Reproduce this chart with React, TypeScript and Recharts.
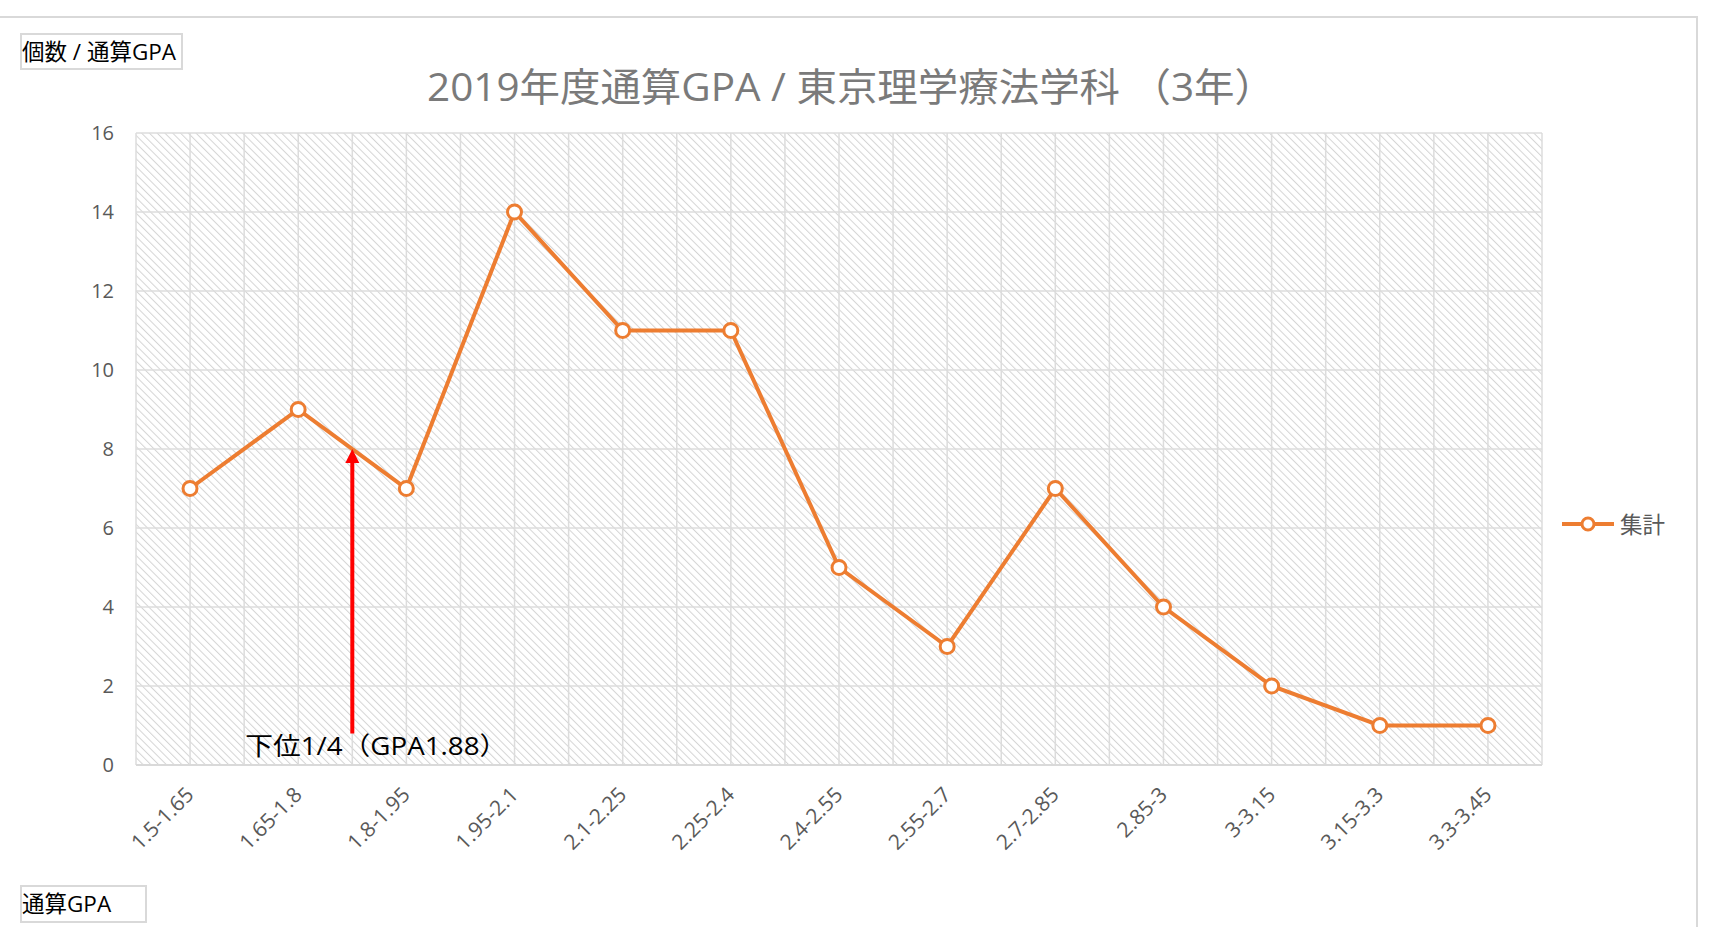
import React from 'react';
import {
  LineChart, Line, XAxis, YAxis, CartesianGrid, Legend, ReferenceLine,
} from 'recharts';

const categories = ['1.5-1.65', '1.65-1.8', '1.8-1.95', '1.95-2.1', '2.1-2.25', '2.25-2.4', '2.4-2.55', '2.55-2.7', '2.7-2.85', '2.85-3', '3-3.15', '3.15-3.3', '3.3-3.45'];
const counts = [7, 9, 7, 14, 11, 11, 5, 3, 7, 4, 2, 1, 1];
const yTicks = [0, 2, 4, 6, 8, 10, 12, 14, 16];
const seriesName = '集計';
const titleText = '2019年度通算GPA / 東京理学療法学科 （3年）';
const yFieldLabel = '個数 / 通算GPA';
const xFieldLabel = '通算GPA';
const arrowLabel = '下位1/4（GPA1.88）';
// arrow position in category units (boundary between 2nd and 3rd category), and its y range
const arrowX = 2;
const arrowFromY = 0.8;
const arrowToY = 8;

const data = categories.map((c, i) => ({ name: c, value: counts[i], pos: i + 0.5 }));

const FONT = '"Open Sans", "Noto Sans CJK JP", sans-serif';
const ORANGE = '#ED7D31';

const XTick = (props: any) => {
  const { x, y, payload } = props;
  const ax = x + 5;
  const ay = y + 23;
  return (
    <text x={ax} y={ay} textAnchor="end" fill="#595959" fontSize={21} fontFamily={FONT}
      transform={`rotate(-45, ${ax}, ${ay})`}>
      {payload.value}
    </text>
  );
};

const ArrowShape = (props: any) => {
  const { x1, y1, x2, y2 } = props;
  const top = Math.min(y1, y2);
  const bottom = Math.max(y1, y2);
  const x = x1;
  return (
    <g>
      <line x1={x} y1={bottom} x2={x} y2={top + 12} stroke="#FF0000" strokeWidth={4} />
      <polygon points={`${x},${top} ${x - 7},${top + 14} ${x + 7},${top + 14}`} fill="#FF0000" />
      <text x={x + 24} y={bottom + 22} textAnchor="middle" fontSize={25} fill="#000" fontFamily={FONT}
        textLength={262} lengthAdjust="spacingAndGlyphs">
        {arrowLabel}
      </text>
    </g>
  );
};

const LegendContent = (props: any) => {
  const { payload } = props;
  return (
    <div style={{ display: 'flex', flexDirection: 'column' }}>
      {(payload || []).map((p: any) => (
        <div key={p.value} style={{ display: 'flex', alignItems: 'center' }}>
          <svg width={56} height={20} style={{ display: 'block' }}>
            <line x1={2} y1={10} x2={54} y2={10} stroke={ORANGE} strokeWidth={4} />
            <circle cx={28} cy={10} r={6} fill="#fff" stroke={ORANGE} strokeWidth={3} />
          </svg>
          <span style={{ fontFamily: FONT, fontSize: 22.5, color: '#595959', marginLeft: 4 }}>{p.value}</span>
        </div>
      ))}
    </div>
  );
};

export default function App() {
  return (
    <div style={{ position: 'absolute', left: 0, top: 0, width: 1715, height: 927, overflow: 'hidden', background: '#fff' }}>
      <svg width={0} height={0} style={{ position: 'absolute' }}>
        <defs>
          <pattern id="hatch" patternUnits="userSpaceOnUse" width={5.5} height={5.5} patternTransform="rotate(-45)">
            <rect width={5.5} height={5.5} fill="#ffffff" />
            <line x1={0} y1={0} x2={0} y2={5.5} stroke="#d4d4d4" strokeWidth={2} />
          </pattern>
        </defs>
      </svg>
      <div style={{ position: 'absolute', left: -4, top: 16, width: 1702, height: 940, border: '2px solid #d9d9d9', boxSizing: 'border-box' }} />
      <div style={{ position: 'absolute', left: 0, top: 0 }}>
        <LineChart width={1715} height={927} data={data} margin={{ top: 133, right: 173, bottom: 102, left: 76 }}>
          <text x={851} y={101} textAnchor="middle" fontSize={39} fill="#7a7a7a" fontFamily={FONT}
            textLength={848} lengthAdjust="spacingAndGlyphs">{titleText}</text>
          <CartesianGrid
            fill="url(#hatch)"
            stroke="#dcdcdc"
            strokeWidth={1.5}
            verticalCoordinatesGenerator={({ offset }: any) =>
              Array.from({ length: categories.length * 2 + 1 }, (_, i) => offset.left + (i * offset.width) / (categories.length * 2))}
          />
          <XAxis dataKey="name" padding={{ left: 54, right: 54 }} height={60} axisLine={{ stroke: '#d9d9d9', strokeWidth: 2 }}
            tickLine={false} interval={0} tick={<XTick />} />
          <XAxis xAxisId="n" dataKey="pos" type="number" scale="linear" domain={[0, categories.length]}
            ticks={[0, categories.length]} allowDataOverflow hide />
          <YAxis width={60} domain={[0, 16]} ticks={yTicks} axisLine={false} tickLine={false} tickMargin={16}
            tick={{ fill: '#595959', fontSize: 20, fontFamily: FONT }} />
          <Line type="linear" dataKey="value" name={seriesName} stroke={ORANGE} strokeWidth={4}
            dot={{ r: 7, fill: '#fff', stroke: ORANGE, strokeWidth: 3 }} activeDot={false} isAnimationActive={false} />
          <ReferenceLine xAxisId="n" segment={[{ x: arrowX, y: arrowFromY }, { x: arrowX, y: arrowToY }]}
            shape={<ArrowShape />} ifOverflow="visible" />
          <Legend layout="horizontal" verticalAlign="middle" align="center" content={<LegendContent />}
            wrapperStyle={{ left: 1560, top: 507, width: 140 }} />
        </LineChart>
      </div>
      <div style={{ position: 'absolute', left: 20, top: 33, width: 163, height: 37, border: '2px solid #d9d9d9', boxSizing: 'border-box',
        fontFamily: FONT, fontSize: 22.5, lineHeight: '33px', paddingLeft: 0, color: '#000', whiteSpace: 'nowrap', overflow: 'hidden' }}>{yFieldLabel}</div>
      <div style={{ position: 'absolute', left: 20, top: 885, width: 127, height: 38, border: '2px solid #d9d9d9', boxSizing: 'border-box',
        fontFamily: FONT, fontSize: 22.5, lineHeight: '34px', paddingLeft: 0, color: '#000', whiteSpace: 'nowrap' }}>{xFieldLabel}</div>
    </div>
  );
}
